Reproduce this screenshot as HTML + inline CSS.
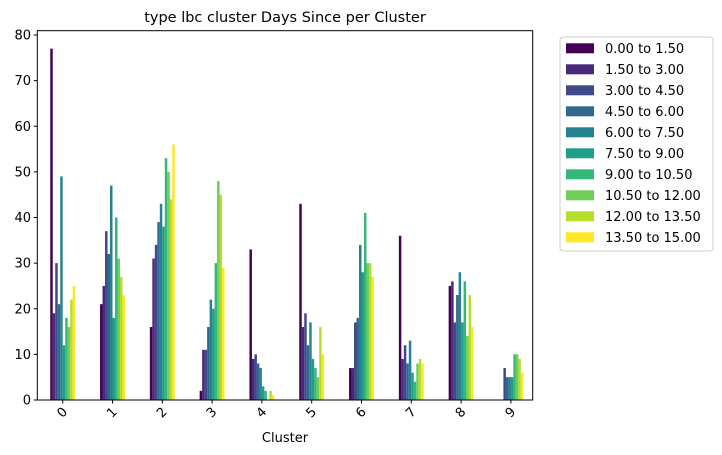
<!DOCTYPE html>
<html><head><meta charset="utf-8"><style>
html,body{margin:0;padding:0;background:#fff;}
svg{display:block;font-family:"DejaVu Sans","Liberation Sans",sans-serif;}
</style></head><body>
<svg id="chart" width="722" height="455" viewBox="0 0 722 455">
<text x="285" y="22" text-anchor="middle" font-size="14.5" fill="#000">type lbc cluster Days Since per Cluster</text>
<g id="bars"></g>
<rect x="37.3" y="30.7" width="495.4" height="369.3" fill="none" stroke="#000" stroke-width="1"/>
<g id="yaxis"></g>
<g id="xaxis"></g>
<text x="285" y="442" text-anchor="middle" font-size="13">Cluster</text>
<g id="legend"></g>
</svg>
<script>
const categories = ["0","1","2","3","4","5","6","7","8","9"];
const seriesNames = ["0.00 to 1.50","1.50 to 3.00","3.00 to 4.50","4.50 to 6.00","6.00 to 7.50","7.50 to 9.00","9.00 to 10.50","10.50 to 12.00","12.00 to 13.50","13.50 to 15.00"];
const s0 = [77,21,16,2,33,43,7,36,25,0];
const s1 = [19,25,31,11,9,16,7,9,26,0];
const s2 = [30,37,34,11,10,19,17,12,17,7];
const s3 = [21,32,39,16,8,12,18,8,23,5];
const s4 = [49,47,43,22,7,17,34,13,28,5];
const s5 = [12,18,38,20,3,9,28,6,17,5];
const s6 = [18,40,53,30,2,7,41,4,26,10];
const s7 = [16,31,50,48,0,5,30,8,14,10];
const s8 = [22,27,44,45,2,16,30,9,23,9];
const s9 = [25,23,56,29,1,10,27,8,16,6];
const yTicks = [0,10,20,30,40,50,60,70,80];
const series = [s0,s1,s2,s3,s4,s5,s6,s7,s8,s9];
const colors = ["#440154","#482878","#3e4989","#31688e","#26828e","#1f9e89","#35b779","#6ece58","#b5de2b","#fde725"];
const NS="http://www.w3.org/2000/svg";
const X0=62.7, XU=49.8, Y0=400, YU=4.5625;
function xScale(i){return X0+i*XU;}
function yScale(v){return Y0-v*YU;}
function mk(tag,attrs,parent){const e=document.createElementNS(NS,tag);for(const k in attrs)e.setAttribute(k,attrs[k]);parent.appendChild(e);return e;}
const barsG=document.getElementById('bars');
const bw=0.05*XU;
series.forEach((vals,si)=>{
  vals.forEach((v,ci)=>{
    const x=xScale(ci)-0.25*XU+si*bw;
    const r=mk('rect',{x:x,y:yScale(v),width:bw,height:v*YU,fill:colors[si]},barsG);
    
    
  });
});
const ya=document.getElementById('yaxis');
yTicks.forEach(t=>{
  const y=yScale(t);
  const l=mk('line',{x1:37.3,x2:33.8,y1:y,y2:y,stroke:'#000'},ya);
  
  
  const tx=mk('text',{x:31,y:y+4.5,'text-anchor':'end','font-size':'13'},ya);
  tx.textContent=t;
  
  
});
const xa=document.getElementById('xaxis');
categories.forEach((c,i)=>{
  const x=xScale(i);
  const l=mk('line',{x1:x,x2:x,y1:400,y2:403.5,stroke:'#000'},xa);
  
  
  const tx=mk('text',{x:x,y:413,'text-anchor':'middle','dominant-baseline':'central','font-size':'13',transform:'rotate(-45 '+x+' 413)'},xa);
  tx.textContent=c;
  
  
});
const lg=document.getElementById('legend');
const box=mk('rect',{x:560,y:37,width:153,height:214,rx:3,fill:'#fff',stroke:'#ccc'},lg);


seriesNames.forEach((n,i)=>{
  const cy=48.3+i*21;
  const sw=mk('rect',{x:566,y:cy-5,width:28,height:10,fill:colors[i]},lg);
  
  
  const tx=mk('text',{x:605,y:cy+4.5,'font-size':'13'},lg);
  tx.textContent=n;
  
  
});
</script>
</body></html>
